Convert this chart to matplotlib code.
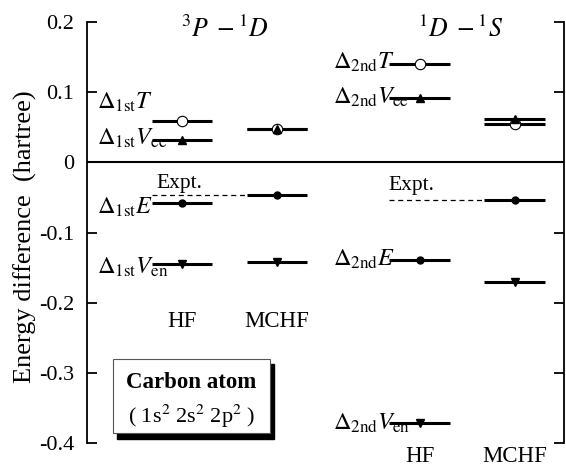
import matplotlib
matplotlib.use('Agg')
import matplotlib.pyplot as plt
from matplotlib.patches import Rectangle

plt.rcParams['font.family'] = ['Liberation Serif', 'DejaVu Serif']
plt.rcParams['mathtext.fontset'] = 'stix'
plt.rcParams['axes.unicode_minus'] = False

# column centres (HF, MCHF for each transition)
col_x = [1.0, 2.0, 3.5, 4.5]
half_w = 0.32

# energy differences (hartree) per column
dT = [0.059, 0.048, 0.140, 0.055]
dVee = [0.032, 0.048, 0.092, 0.062]
dE = [-0.058, -0.047, -0.139, -0.054]
dVen = [-0.145, -0.142, -0.372, -0.171]
expt = [-0.047, -0.053]  # 3P-1D, 1D-1S

yticks = [0.2, 0.1, 0, -0.1, -0.2, -0.3, -0.4]
ytick_labels = ['0.2', '0.1', '0', '-0.1', '-0.2', '-0.3', '-0.4']

fig = plt.figure(figsize=(5.66, 4.73), dpi=100)
ax = fig.add_axes([0.1537, 0.0634, 0.8428, 0.8901])
ax.set_xlim(0, 5.02)
ax.set_ylim(-0.4, 0.2)

# level lines with markers
for x, t, v, e, n in zip(col_x, dT, dVee, dE, dVen):
    for val in (t, v, e, n):
        ax.plot([x - half_w, x + half_w], [val, val], color='black', lw=2.2,
                solid_capstyle='butt', zorder=2)
    ax.plot(x, t, marker='o', mfc='white', mec='black', mew=0.8, ms=7.5, zorder=3)
    ax.plot(x, v, marker='^', color='black', ms=6, zorder=4)
    ax.plot(x, e, marker='o', color='black', ms=5, zorder=3)
    ax.plot(x, n, marker='v', color='black', ms=6, zorder=3)

# experimental dashed lines
ax.plot([col_x[0] - half_w, col_x[1] - half_w], [expt[0], expt[0]], color='black',
        lw=0.9, ls=(0, (4, 3)), zorder=1)
ax.plot([col_x[2] - half_w, col_x[3] - half_w], [expt[1], expt[1]], color='black',
        lw=0.9, ls=(0, (4, 3)), zorder=1)
ax.text(0.73, -0.036, 'Expt.', fontsize=15.5)
ax.text(3.17, -0.040, 'Expt.', fontsize=15.5)

# zero line
ax.axhline(0, color='black', lw=1.5)

# axes styling
for s in ('top', 'bottom'):
    ax.spines[s].set_visible(False)
ax.spines['left'].set_linewidth(1.3)
ax.spines['right'].set_linewidth(1.3)
ax.set_xticks([])
ax.set_yticks(yticks)
ax.set_yticklabels(ytick_labels)
ax.tick_params(axis='y', direction='in', length=7, width=1.3, labelsize=16,
               pad=9, right=True)
ax.set_ylabel('Energy difference  (hartree)', fontsize=19, labelpad=0)
ax.yaxis.set_label_coords(-0.105, 0.49)

# level labels
fs = 17.5
ax.text(0.105, 0.076, r'$\Delta_{\rm 1st}T$', fontsize=fs)
ax.text(0.105, 0.025, r'$\Delta_{\rm 1st}V_{\rm ee}$', fontsize=fs)
ax.text(0.105, -0.073, r'$\Delta_{\rm 1st}E$', fontsize=fs)
ax.text(0.105, -0.159, r'$\Delta_{\rm 1st}V_{\rm en}$', fontsize=fs)
ax.text(2.59, 0.134, r'$\Delta_{\rm 2nd}T$', fontsize=fs)
ax.text(2.59, 0.084, r'$\Delta_{\rm 2nd}V_{\rm ee}$', fontsize=fs)
ax.text(2.59, -0.148, r'$\Delta_{\rm 2nd}E$', fontsize=fs)
ax.text(2.59, -0.381, r'$\Delta_{\rm 2nd}V_{\rm en}$', fontsize=fs)

# transition titles
ax.text(1.45, 0.178, r'$^3P\;-{}^1D$', fontsize=18.5, ha='center')
ax.text(3.93, 0.178, r'$^1D\;-{}^1S$', fontsize=18.5, ha='center')

# method labels
ax.text(col_x[0], -0.234, 'HF', fontsize=16.5, ha='center')
ax.text(col_x[1], -0.234, 'MCHF', fontsize=16.5, ha='center')
ax.text(col_x[2], -0.427, 'HF', fontsize=16.5, ha='center', clip_on=False)
ax.text(col_x[3], -0.427, 'MCHF', fontsize=16.5, ha='center', clip_on=False)

# carbon atom box with shadow
bx, by, bw, bh = 0.274, -0.386, 1.652, 0.106
ax.add_patch(Rectangle((bx + 0.045, by - 0.008), bw, bh, facecolor='black',
                       edgecolor='black', zorder=5))
ax.add_patch(Rectangle((bx, by), bw, bh, facecolor='white', edgecolor='#555555',
                       lw=0.8, zorder=6))
ax.text(bx + bw / 2, -0.321, 'Carbon atom', fontsize=16.5, fontweight='bold',
        ha='center', zorder=7)
ax.text(bx + bw / 2, -0.371, r'( 1s$^2$ 2s$^2$ 2p$^2$ )', fontsize=16,
        ha='center', zorder=7)

fig.savefig('out.png', dpi=100)
